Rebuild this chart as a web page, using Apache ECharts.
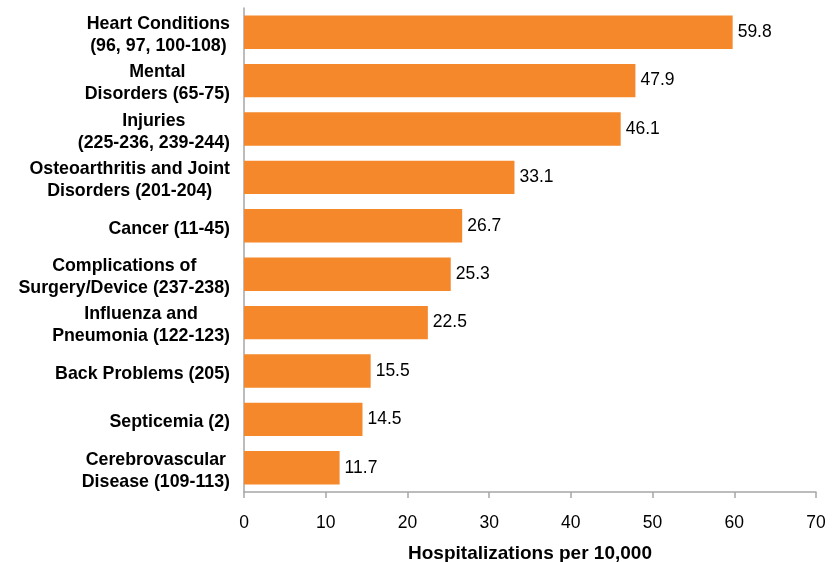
<!DOCTYPE html>
<html>
<head>
<meta charset="utf-8">
<script src="https://cdn.jsdelivr.net/npm/echarts@6/dist/echarts.min.js"></script>
<style>
  html, body { margin: 0; padding: 0; background: #fff; }
  #chart { width: 838px; height: 562px; }
</style>
</head>
<body>
<div id="chart"></div>
<script>
// Conditions, listed top to bottom; "\n" splits a label onto two lines
const categories = [
  'Heart Conditions\n(96, 97, 100-108)',
  'Mental\nDisorders (65-75)',
  'Injuries\n(225-236, 239-244)',
  'Osteoarthritis and Joint\nDisorders (201-204)',
  'Cancer (11-45)',
  'Complications of\nSurgery/Device (237-238)',
  'Influenza and\nPneumonia (122-123)',
  'Back Problems (205)',
  'Septicemia (2)',
  'Cerebrovascular\nDisease (109-113)'
];
const rates = [59.8, 47.9, 46.1, 33.1, 26.7, 25.3, 22.5, 15.5, 14.5, 11.7];
const xTicks = [0, 10, 20, 30, 40, 50, 60, 70];
const xTitle = 'Hospitalizations per 10,000';

const chart = echarts.init(document.getElementById('chart'), null, { renderer: 'canvas' });
const font = 'Liberation Sans, Arial, Helvetica, sans-serif';

chart.setOption({
  animation: false,
  backgroundColor: '#ffffff',
  grid: {
    left: 244, right: 22, top: 8, bottom: 70,
    containLabel: false,
    outerBoundsMode: 'none'
  },
  xAxis: {
    type: 'value',
    min: xTicks[0],
    max: xTicks[xTicks.length - 1],
    interval: 10,
    name: xTitle,
    nameLocation: 'middle',
    nameGap: 52,
    nameTextStyle: { fontFamily: font, fontSize: 19, fontWeight: 'bold', color: '#000' },
    axisLine: { show: true, lineStyle: { color: '#a6a6a6', width: 1.5 } },
    axisTick: { show: true, length: 6, lineStyle: { color: '#a6a6a6', width: 1.5 } },
    splitLine: { show: false },
    axisLabel: { fontFamily: font, fontSize: 17.5, color: '#000', margin: 22 }
  },
  yAxis: {
    type: 'category',
    data: categories,
    inverse: true,
    axisLine: { show: true, lineStyle: { color: '#a6a6a6', width: 1.5 } },
    axisTick: { show: false },
    splitLine: { show: false },
    axisLabel: {
      align: 'right',
      margin: 14,
      interval: 0,
      showMinLabel: true,
      showMaxLabel: true,
      hideOverlap: false,
      lineHeight: 22,
      padding: [6, 0, 0, 0],
      formatter: function (v) {
        return v.split('\n').map(function (s) { return '{c|' + s + '}'; }).join('\n');
      },
      rich: {
        c: {
          align: 'center',
          fontFamily: font,
          fontSize: 17.8,
          fontWeight: 'bold',
          color: '#000',
          lineHeight: 22
        }
      }
    }
  },
  series: [{
    type: 'bar',
    data: rates,
    barWidth: '69%',
    itemStyle: { color: '#F5882B' },
    label: {
      show: true,
      position: 'right',
      distance: 5,
      fontFamily: font,
      fontSize: 17.5,
      color: '#000',
      formatter: function (p) { return p.value.toFixed(1); }
    }
  }]
});
</script>
</body>
</html>
